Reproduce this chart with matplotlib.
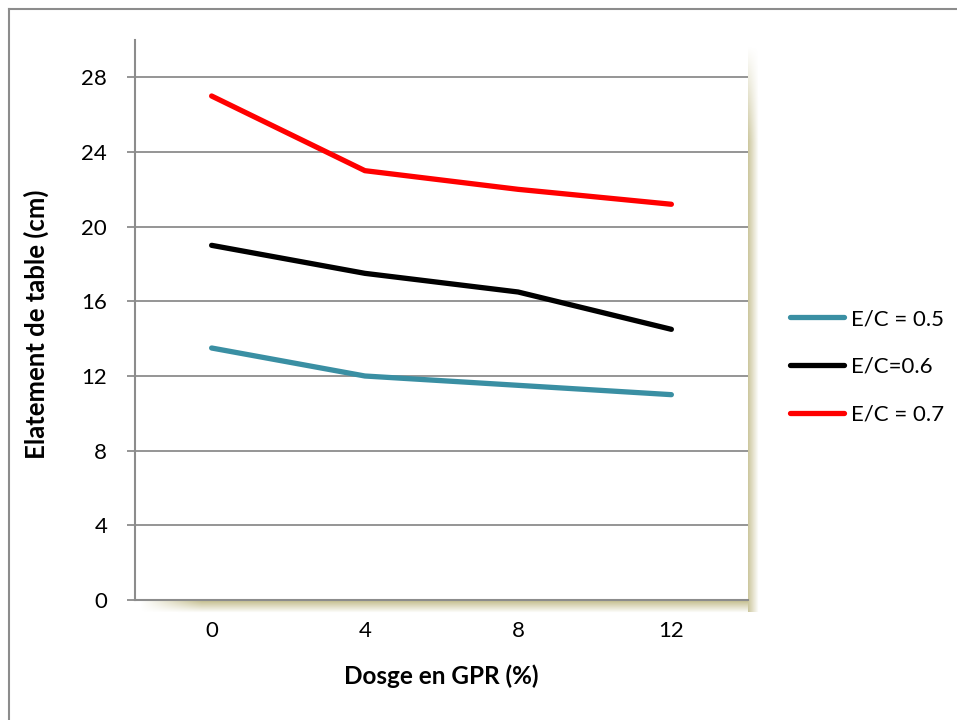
import numpy as np
import matplotlib.pyplot as plt
from matplotlib.lines import Line2D

dosages = ["0", "4", "8", "12"]
ec_05 = [13.5, 12.0, 11.5, 11.0]
ec_06 = [19.0, 17.5, 16.5, 14.5]
ec_07 = [27.0, 23.0, 22.0, 21.2]
labels = ["E/C = 0.5", "E/C=0.6", "E/C = 0.7"]
colors = ["#3a8fa3", "#000000", "#ff0000"]
y_ticks = [0, 4, 8, 12, 16, 20, 24, 28]

plt.rcParams['font.family'] = ['Lato', 'DejaVu Sans']

W, H = 957, 720
fig = plt.figure(figsize=(W / 100, H / 100), dpi=100)

# background layer in pixel coordinates, used for the shadow and border
bg = fig.add_axes([0, 0, 1, 1], zorder=-1)
bg.set_xlim(0, W)
bg.set_ylim(H, 0)
bg.axis('off')

# plot area in pixels
x0, x1, y0, y1 = 135, 748, 40, 600
ax = fig.add_axes([x0 / W, 1 - y1 / H, (x1 - x0) / W, (y1 - y0) / H])

shade = np.array([0.74, 0.71, 0.50])

def shadow(alpha2d, extent):
    img = np.zeros(alpha2d.shape + (4,))
    img[..., :3] = shade
    img[..., 3] = alpha2d
    bg.imshow(img, extent=extent, interpolation='bilinear', aspect='auto')

# right-hand shadow: fades out to the right and towards the top
fx = np.linspace(0.75, 0.0, 12)
fy = np.clip(np.linspace(0, 1, 60) * 6, 0, 1)
shadow(np.outer(fy, fx), (x1, x1 + 11, y1 + 12, y0 + 2))
# bottom shadow: fades out downward and towards the left end
gy = np.linspace(0.9, 0.0, 14)
gx = np.clip(np.linspace(0, 1, 80) * 10, 0, 1)
shadow(np.outer(gy, gx), (x0 + 2, x1, y1 + 13, y1))

x = range(len(dosages))
for vals, lab, c in zip([ec_05, ec_06, ec_07], labels, colors):
    ax.plot(x, vals, color=c, lw=3.8, solid_capstyle='round',
            solid_joinstyle='round', label=lab, zorder=3)

ax.set_xlim(-0.5, len(dosages) - 0.5)
ax.set_ylim(0, 30)
ax.set_yticks(y_ticks)
ax.set_xticks(list(x))
ax.set_xticklabels(dosages)
ax.grid(axis='y', color='#8c8c8c', lw=1.3)
ax.set_axisbelow(True)

for s in ['top', 'right']:
    ax.spines[s].set_visible(False)
for s in ['left', 'bottom']:
    ax.spines[s].set_color('#8c8c8c')
    ax.spines[s].set_linewidth(1.5)

ax.tick_params(axis='y', length=6, width=1.3, color='#8c8c8c', labelsize=16, pad=14)
ax.tick_params(axis='x', length=0, labelsize=16, pad=15)

fig.text(36 / W, 1 - 324 / H, "Elatement de table (cm)", fontsize=18.5,
         fontweight='bold', rotation=90, ha='center', va='center')
fig.text(441 / W, 1 - 676 / H, "Dosge en GPR (%)", fontsize=17.5,
         fontweight='bold', ha='center', va='center')

leg = ax.legend(loc='center left', bbox_to_anchor=(790 / W, 1 - 367 / H),
                bbox_transform=fig.transFigure, frameon=False, borderpad=0,
                borderaxespad=0, fontsize=16, handlelength=2.45,
                handletextpad=0.3, labelspacing=1.25)

# outer chart border
fig.add_artist(Line2D([9 / W, 1], [1 - 9 / H, 1 - 9 / H], color='#8c8c8c', lw=1.5))
fig.add_artist(Line2D([9 / W, 9 / W], [0, 1 - 9 / H], color='#8c8c8c', lw=1.5))

fig.savefig("out.png", dpi=100)
